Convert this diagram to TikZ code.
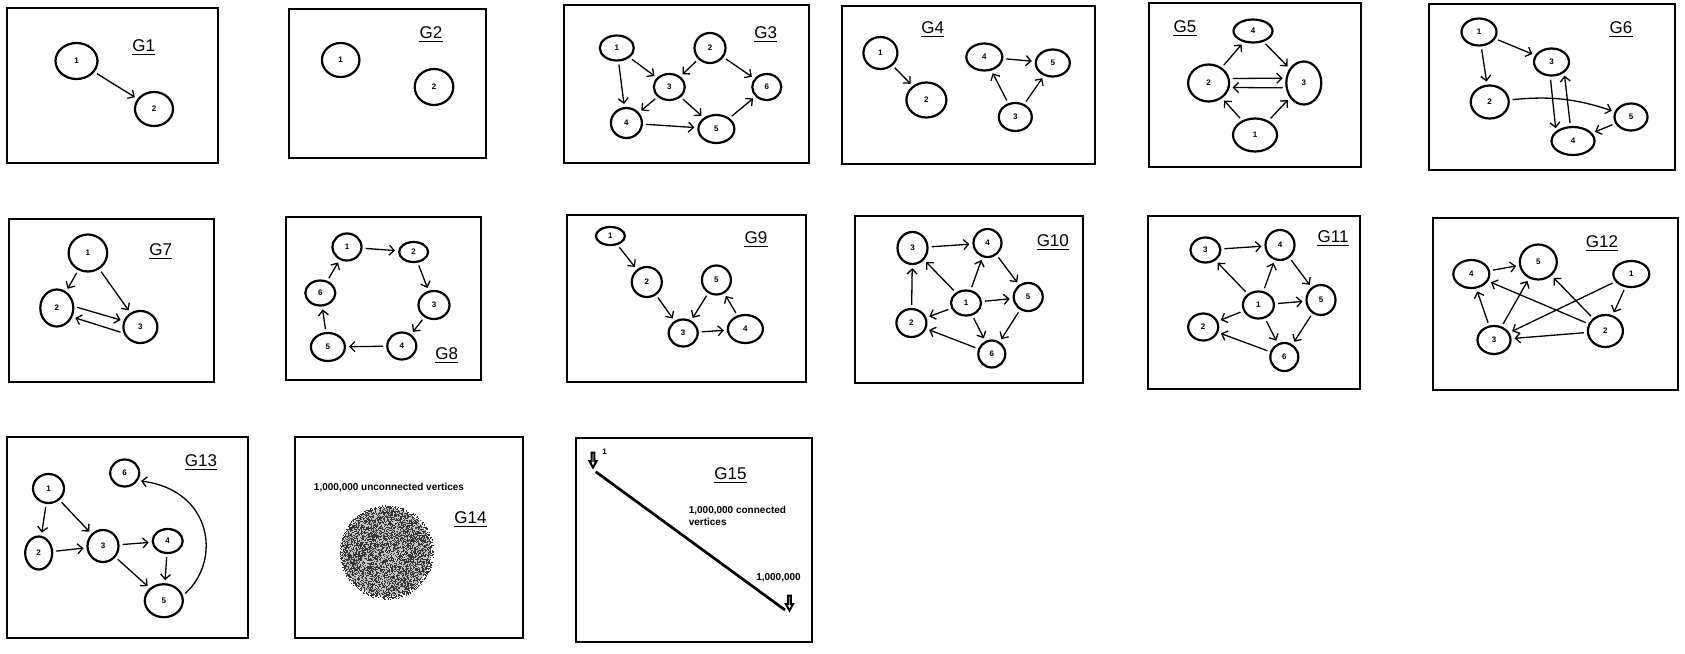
\documentclass[tikz,border=0pt]{standalone}
\usepackage{fontspec}
\setmainfont{Liberation Sans}
\usetikzlibrary{shapes.geometric,arrows.meta}
\newcommand\myvx[6]{\node[vx,minimum width=#4pt,minimum height=#5pt] (#1) at (#2,#3) {#6};}
\newcommand\mylab[4]{\node[glab] (#1) at (#2,#3) {#4};
  \draw[uline] ([yshift=-2.6pt]#1.base west) -- ([yshift=-2.6pt]#1.base east);}
\tikzset{darr/.pic={\draw[line width=2pt,line join=miter] (-1.4,-7.5) -- (-1.4,1) -- (-3.6,1) -- (0,7.5) -- (3.6,1) -- (1.4,1) -- (1.4,-7.5) -- cycle;}}
\begin{document}
\begin{tikzpicture}[x=1pt,y=-1pt,
  pbox/.style={draw,line width=2.6pt},
  vx/.style={draw,ellipse,line width=2.2pt,inner sep=0pt,font=\fontsize{8}{9}\selectfont\bfseries},
  glab/.style={inner sep=0pt,font=\fontsize{17}{20}\selectfont},
  uline/.style={line width=1.1pt},
  arr/.style={line width=1.3pt,-{Straight Barb[length=5pt,width=10pt]},shorten <=3pt,shorten >=3pt},
  txt/.style={inner sep=0pt,font=\fontsize{10}{12}\selectfont\bfseries}]
\useasboundingbox (0,0) rectangle (1685,653);
% ---------------- boxes
\draw[pbox] (7,8) rectangle (218,163);
\draw[pbox] (289,9) rectangle (486,158);
\draw[pbox] (564,5) rectangle (809,163);
\draw[pbox] (842,6) rectangle (1095,164);
\draw[pbox] (1149,3) rectangle (1361,167);
\draw[pbox] (1429,4) rectangle (1675,170);
\draw[pbox] (9,219) rectangle (214,382);
\draw[pbox] (286,217) rectangle (481,380);
\draw[pbox] (567,215) rectangle (806,382);
\draw[pbox] (855,216) rectangle (1083,383);
\draw[pbox] (1148,216) rectangle (1360,389);
\draw[pbox] (1433,218) rectangle (1678,390);
\draw[pbox] (7,437) rectangle (248,638);
\draw[pbox] (295,437) rectangle (523,638);
\draw[pbox] (576,438) rectangle (812,642);
% ---------------- G1
\myvx{g1a}{76.5}{61}{42}{36}{1}
\myvx{g1b}{154}{109}{38}{34}{2}
\mylab{t1}{143.7}{46}{G1}
\draw[arr] (g1a) -- (g1b);
% ---------------- G2
\myvx{g2a}{340.7}{60}{37.5}{34}{1}
\myvx{g2b}{434}{87}{38.6}{36}{2}
\mylab{t2}{431}{33}{G2}
% ---------------- G3
\myvx{g3a}{616.8}{48}{34}{25}{1}
\myvx{g3b}{710}{48}{31}{30}{2}
\myvx{g3c}{669.3}{87}{31}{26}{3}
\myvx{g3d}{626.4}{123}{31}{30}{4}
\myvx{g3e}{716.4}{129}{36}{28}{5}
\myvx{g3f}{766.8}{87}{29}{26}{6}
\mylab{t3}{765.7}{33}{G3}
\draw[arr] (g3a) -- (g3c);
\draw[arr] (g3a) -- (g3d);
\draw[arr] (g3b) -- (g3c);
\draw[arr] (g3b) -- (g3f);
\draw[arr] (g3c) -- (g3d);
\draw[arr] (g3c) -- (g3e);
\draw[arr] (g3d) -- (g3e);
\draw[arr] (g3e) -- (g3f);
% ---------------- G4
\myvx{g4a}{880.4}{53}{34}{32}{1}
\myvx{g4b}{926.4}{100}{40}{35}{2}
\myvx{g4d}{984.3}{57}{36}{27}{4}
\myvx{g4e}{1052.8}{63}{34}{27}{5}
\myvx{g4c}{1015.3}{117}{33}{28}{3}
\mylab{t4}{932.8}{28}{G4}
\draw[arr] (g4a) -- (g4b);
\draw[arr] (g4d) -- (g4e);
\draw[arr] (g4c) -- (g4d);
\draw[arr] (g4c) -- (g4e);
% ---------------- G5
\myvx{g5d}{1253}{31}{39}{23}{4}
\myvx{g5b}{1208.6}{83}{41}{37}{2}
\myvx{g5c}{1303.8}{83}{35}{43}{3}
\myvx{g5a}{1255}{135}{44}{33}{1}
\mylab{t5}{1185}{27}{G5}
\draw[arr] (g5b) -- (g5d);
\draw[arr] (g5d) -- (g5c);
\draw[arr] (g5b.12) -- (g5c.165);
\draw[arr] (g5c.195) -- (g5b.-12);
\draw[arr] (g5a) -- (g5b);
\draw[arr] (g5a) -- (g5c);
% ---------------- G6
\myvx{g6a}{1479}{32}{35}{27}{1}
\myvx{g6c}{1551.5}{62}{35}{27}{3}
\myvx{g6b}{1489.7}{102}{38}{33}{2}
\myvx{g6e}{1631}{117}{33}{27}{5}
\myvx{g6d}{1573}{141}{43}{28}{4}
\mylab{t6}{1621}{28}{G6}
\draw[arr] (g6a) -- (g6c);
\draw[arr] (g6a) -- (g6b);
\draw[arr] (g6b) to[bend left=12] (g6e);
\draw[arr] (g6c.-95) -- (g6d.150);
\draw[arr] (g6d.100) -- (g6c.-40);
\draw[arr] (g6e) -- (g6d);
% ---------------- G7
\myvx{g7a}{87.9}{253}{38.6}{37}{1}
\myvx{g7b}{56.8}{308}{33}{37}{2}
\myvx{g7c}{140.4}{327}{34}{32}{3}
\mylab{t7}{160.7}{250}{G7}
\draw[arr] (g7a) -- (g7b);
\draw[arr] (g7a) -- (g7c);
\draw[arr] (g7b.5) -- (g7c.160);
\draw[arr] (g7c.200) -- (g7b.-30);
% ---------------- G8
\myvx{g8a}{347}{247}{29}{27}{1}
\myvx{g8b}{413.6}{252}{29}{20}{2}
\myvx{g8c}{434}{305}{31}{28}{3}
\myvx{g8d}{401.8}{346}{29}{27}{4}
\myvx{g8e}{327.9}{347}{34}{28}{5}
\myvx{g8f}{320.3}{293}{30}{25}{6}
\mylab{t8}{446.8}{354}{G8}
\draw[arr] (g8a) -- (g8b);
\draw[arr] (g8b) -- (g8c);
\draw[arr] (g8c) -- (g8d);
\draw[arr] (g8d) -- (g8e);
\draw[arr] (g8e) -- (g8f);
\draw[arr] (g8f) -- (g8a);
% ---------------- G9
\myvx{g9a}{610.4}{236}{29}{18}{1}
\myvx{g9b}{646.8}{282}{30}{30}{2}
\myvx{g9e}{716.4}{280}{29}{29}{5}
\myvx{g9c}{683.2}{333}{29}{27}{3}
\myvx{g9d}{745.4}{329}{35}{28}{4}
\mylab{t9}{756}{238}{G9}
\draw[arr] (g9a) -- (g9b);
\draw[arr] (g9b) -- (g9c);
\draw[arr] (g9e) -- (g9c);
\draw[arr] (g9c) -- (g9d);
\draw[arr] (g9d) -- (g9e);
% ---------------- G10
\myvx{g10c}{912.5}{248}{30}{32}{3}
\myvx{g10d}{987.5}{243}{28}{28}{4}
\myvx{g10e}{1028.2}{297}{29}{28}{5}
\myvx{g10a}{966}{303}{30}{25}{1}
\myvx{g10b}{911.4}{323}{30}{28}{2}
\myvx{g10f}{991.8}{354}{27}{27}{6}
\mylab{t10}{1052.8}{241}{G10}
\draw[arr] (g10c) -- (g10d);
\draw[arr] (g10d) -- (g10e);
\draw[arr] (g10a) -- (g10c);
\draw[arr] (g10a) -- (g10d);
\draw[arr] (g10b) -- (g10c);
\draw[arr] (g10a) -- (g10b);
\draw[arr] (g10a) -- (g10e);
\draw[arr] (g10a) -- (g10f);
\draw[arr] (g10e) -- (g10f);
\draw[arr] (g10f) -- (g10b);
% ---------------- G11
\myvx{g11c}{1205.4}{250}{30}{25}{3}
\myvx{g11d}{1280}{245}{29}{30}{4}
\myvx{g11e}{1321}{300}{29}{30}{5}
\myvx{g11a}{1258.4}{305}{31}{27}{1}
\myvx{g11b}{1203.2}{327}{30}{27}{2}
\myvx{g11f}{1284.3}{357}{28}{28}{6}
\mylab{t11}{1333}{237}{G11}
\draw[arr] (g11c) -- (g11d);
\draw[arr] (g11d) -- (g11e);
\draw[arr] (g11a) -- (g11c);
\draw[arr] (g11a) -- (g11d);
\draw[arr] (g11a) -- (g11b);
\draw[arr] (g11a) -- (g11e);
\draw[arr] (g11a) -- (g11f);
\draw[arr] (g11e) -- (g11f);
\draw[arr] (g11f) -- (g11b);
% ---------------- G12
\myvx{g12e}{1538.3}{262}{37}{35}{5}
\myvx{g12d}{1471.3}{274}{36}{28}{4}
\myvx{g12a}{1631.3}{274}{36}{26}{1}
\myvx{g12c}{1494}{340}{33}{28}{3}
\myvx{g12b}{1605.4}{331}{35}{32}{2}
\mylab{t12}{1602}{242}{G12}
\draw[arr] (g12d) -- (g12e);
\draw[arr] (g12c) -- (g12d);
\draw[arr] (g12c) -- (g12e);
\draw[arr] (g12a) -- (g12c);
\draw[arr] (g12a) -- (g12b);
\draw[arr] (g12b) -- (g12d);
\draw[arr] (g12b) -- (g12e);
\draw[arr] (g12b) -- (g12c);
% ---------------- G13
\myvx{g13a}{48.5}{488.5}{31}{29}{1}
\myvx{g13f}{124.7}{473}{29}{27}{6}
\myvx{g13b}{38.7}{553}{27}{33}{2}
\myvx{g13c}{103}{546}{31}{32}{3}
\myvx{g13d}{167.7}{541}{30}{24}{4}
\myvx{g13e}{163.8}{600.7}{38}{33}{5}
\mylab{t13}{201}{461}{G13}
\draw[arr] (g13a) -- (g13b);
\draw[arr] (g13a) -- (g13c);
\draw[arr] (g13b) -- (g13c);
\draw[arr] (g13c) -- (g13d);
\draw[arr] (g13c) -- (g13e);
\draw[arr] (g13d) -- (g13e);
\draw[arr] (g13e.15) .. controls (222,560) and (212,490) .. (g13f.-30);
% ---------------- G14
\node[txt] (unc) at (389,488) {1,000,000 unconnected vertices};
\mylab{t14}{470.4}{518}{G14}
\coordinate (blob) at (386.5,552);
\fill[gray!45] (blob) circle[radius=44];
\pgfmathsetseed{7}
\foreach \i in {1,...,5200}{
  \pgfmathsetmacro\rr{47*sqrt(rnd)}
  \pgfmathsetmacro\aa{360*rnd}
  \fill[black!80,shift={(blob)}] (\aa:\rr) rectangle ++(0.7,0.7);
}
% ---------------- G15
\mylab{t15}{730.4}{474}{G15}
\pic at (593,460) {darr};
\pic at (789.5,603) {darr};
\coordinate (v1) at (595.7,471.7);
\coordinate (vn) at (785,610);
\draw[line width=2.7pt] (v1) -- (vn);
\node[txt,font=\fontsize{8}{9}\selectfont\bfseries] (one) at (604.6,451.7) {1};
\node[txt] (mil) at (778.5,578) {1,000,000};
\node[txt,anchor=west,align=left] (conn) at (688.6,516) {1,000,000 connected\\vertices};
\end{tikzpicture}
\end{document}
